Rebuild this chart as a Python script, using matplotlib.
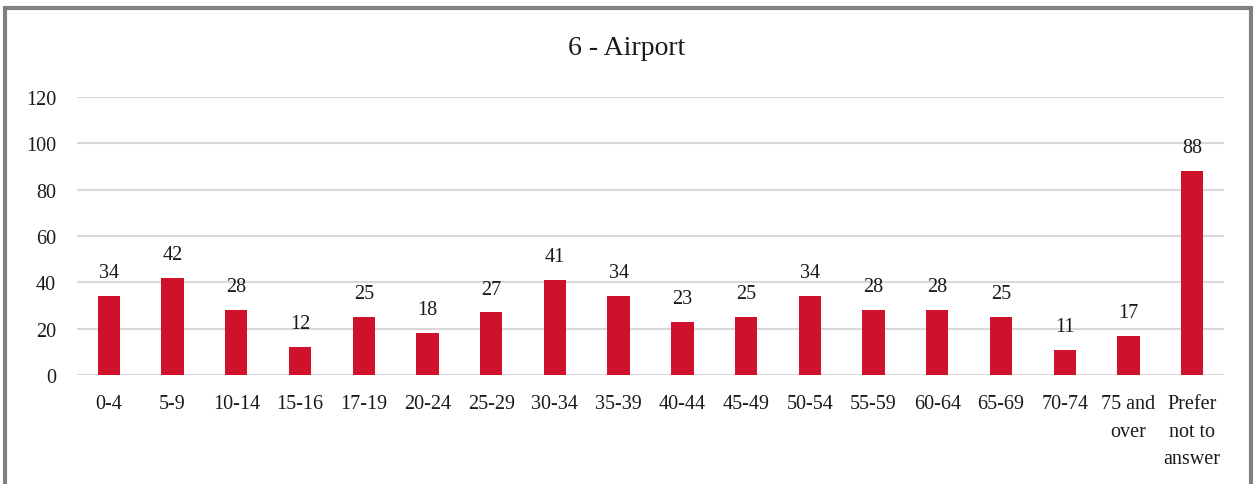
import matplotlib.pyplot as plt
from matplotlib.patches import Rectangle

# Data
categories = ["0-4", "5-9", "10-14", "15-16", "17-19", "20-24", "25-29", "30-34",
              "35-39", "40-44", "45-49", "50-54", "55-59", "60-64", "65-69",
              "70-74", "75 and\nover", "Prefer\nnot to\nanswer"]
values = [34, 42, 28, 12, 25, 18, 27, 41, 34, 23, 25, 34, 28, 28, 25, 11, 17, 88]
y_ticks = [0, 20, 40, 60, 80, 100, 120]

plt.rcParams['font.family'] = ['Liberation Serif', 'DejaVu Serif']

fig = plt.figure(figsize=(12.54, 4.85), dpi=100)
ax = fig.add_axes([0.0614, 0.2247, 0.9147, 0.5733])

x = list(range(len(categories)))
bars = ax.bar(x, values, width=0.35, color="#D0112B", zorder=3)

# Value labels on top of bars
for xi, v in zip(x, values):
    ax.annotate(str(v), xy=(xi, v), xytext=(0, 10), textcoords="offset points",
                ha="center", va="bottom", fontsize=14.5, color="#1a1a1a")

ax.set_xlim(-0.5, len(categories) - 0.5)
ax.set_ylim(0, 120)
ax.set_yticks(y_ticks)
ax.set_xticks(x)
ax.set_xticklabels(categories, fontsize=14.5, color="#1a1a1a", linespacing=1.6)
ax.tick_params(axis="y", labelsize=14.5, colors="#1a1a1a", length=0, pad=15)
ax.tick_params(axis="x", length=0, pad=14)
ax.grid(axis="y", color="#D9D9D9", linewidth=1.5, zorder=0)
for s in ax.spines.values():
    s.set_visible(False)

fig.text(0.5, 0.899, "6 - Airport", ha="center", va="center", fontsize=20, color="#1a1a1a")

# Outer chart border (cropped at the bottom)
border = Rectangle((5 / 1254, -0.05), 1246 / 1254, 1.05 - 8.5 / 485,
                   transform=fig.transFigure, fill=False, edgecolor="#808080",
                   linewidth=3, clip_on=False)
fig.patches.append(border)

fig.savefig("out.png", dpi=100)
